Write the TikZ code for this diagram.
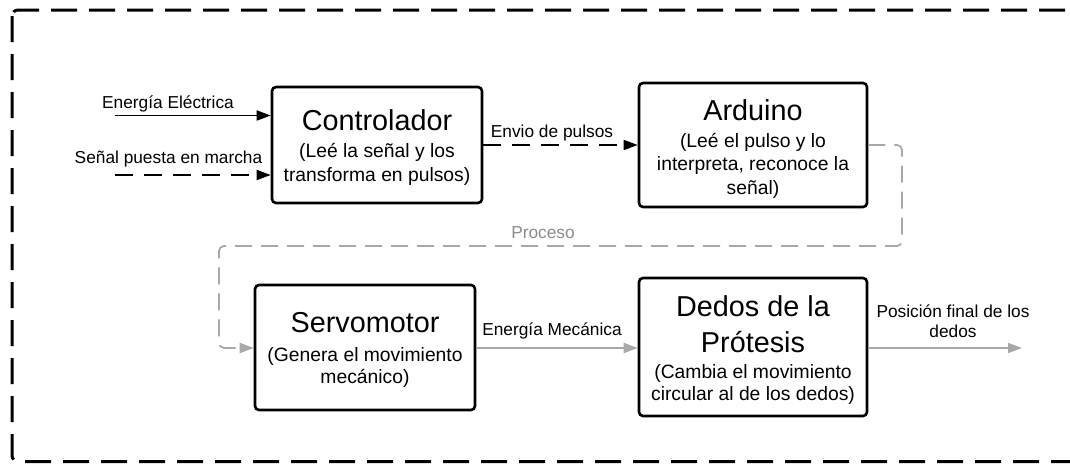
\documentclass[tikz,border=0pt]{standalone}
\usepackage{fontspec}
\setmainfont{Liberation Sans}
\usetikzlibrary{arrows.meta}
\definecolor{lgray}{HTML}{A8A8A8}
\definecolor{tgray}{HTML}{8C8C8C}
\begin{document}
\begin{tikzpicture}[x=1pt,y=-1pt,
 box/.style={draw, line width=2.6pt, rounded corners=4pt, inner sep=0pt},
 ttl/.style={anchor=base, font=\fontsize{28.8}{32}\selectfont, inner sep=0pt},
 sub/.style={anchor=base, font=\fontsize{19.3}{23}\selectfont, inner sep=0pt},
 lbl/.style={anchor=base, font=\fontsize{17.3}{20}\selectfont, inner sep=0pt},
 tip/.style={-{Triangle[length=14pt,width=10pt]}},
 blk/.style={tip, line width=1.8pt},
 gry/.style={tip, draw=lgray, line width=1.8pt},
 bdash/.style={dash pattern=on 18pt off 11pt},
 gdash/.style={dash pattern=on 17pt off 9pt},
]
\useasboundingbox (0,0) rectangle (1070,463);
\clip (0,0) rectangle (1070,463);
% outer frame
\draw[line width=3pt, dash pattern=on 26pt off 12pt, rounded corners=6pt] (12,10) rectangle (1120,461.5);

% boxes
\node[box, minimum width=210pt, minimum height=116pt] (ctrl) at (377,145) {};
\node[box, minimum width=228pt, minimum height=124pt] (ard) at (753,145) {};
\node[box, minimum width=220pt, minimum height=125pt] (servo) at (365,347.5) {};
\node[box, minimum width=228pt, minimum height=138pt] (dedos) at (753,347) {};

% box texts
\node[ttl] (ctrlT) at (377,130) {Controlador};
\node[sub] (ctrlA) at (377,157) {(Leé la señal y los};
\node[sub] (ctrlB) at (377,181) {transforma en pulsos)};

\node[ttl] (ardT) at (753,120) {Arduino};
\node[sub] (ardA) at (753,147) {(Leé el pulso y lo};
\node[sub] (ardB) at (753,170.5) {interpreta, reconoce la};
\node[sub] (ardC) at (753,194) {señal)};

\node[ttl] (servoT) at (365,332) {Servomotor};
\node[sub] (servoA) at (365,361) {(Genera el movimiento};
\node[sub] (servoB) at (365,383) {mecánico)};

\node[ttl] (dedosT) at (753,316) {Dedos de la};
\node[ttl] (dedosU) at (753,352) {Prótesis};
\node[sub] (dedosA) at (753,378) {(Cambia el movimiento};
\node[sub] (dedosB) at (753,400.5) {circular al de los dedos)};

% coordinates
\coordinate (e1) at (115,115.5);
\coordinate (s1) at (115,175);
\coordinate (p1) at (902,145);
\coordinate (p2) at (902,246);
\coordinate (p3) at (219,246);
\coordinate (p4) at (219,348);
\coordinate (m) at (0,348);
\coordinate (fin) at (1022,348);

% connectors
\draw[blk] (e1) -- (ctrl.west |- e1);
\draw[blk, bdash] (s1) -- (ctrl.west |- s1);
\draw[blk, bdash] (ctrl.east) -- (ard.west);
\draw[gry, gdash, rounded corners=5pt] (ard.east) -- (p1) -- (p2) -- (p3) -- (p4) -- (servo.west |- m);
\draw[gry] (servo.east |- m) -- (dedos.west |- m);
\draw[gry] (dedos.east |- m) -- (fin);

% labels
\node[lbl] (l1) at (168,108) {Energía Eléctrica};
\node[lbl] (l2) at (168.5,163) {Señal puesta en marcha};
\node[lbl] (l3) at (552,137) {Envio de pulsos};
\node[lbl, text=tgray] (l4) at (543,238) {Proceso};
\node[lbl] (l5) at (552,335) {Energía Mecánica};
\node[lbl] (l6) at (953,317) {Posición final de los};
\node[lbl] (l7) at (953,337) {dedos};
\end{tikzpicture}
\end{document}
